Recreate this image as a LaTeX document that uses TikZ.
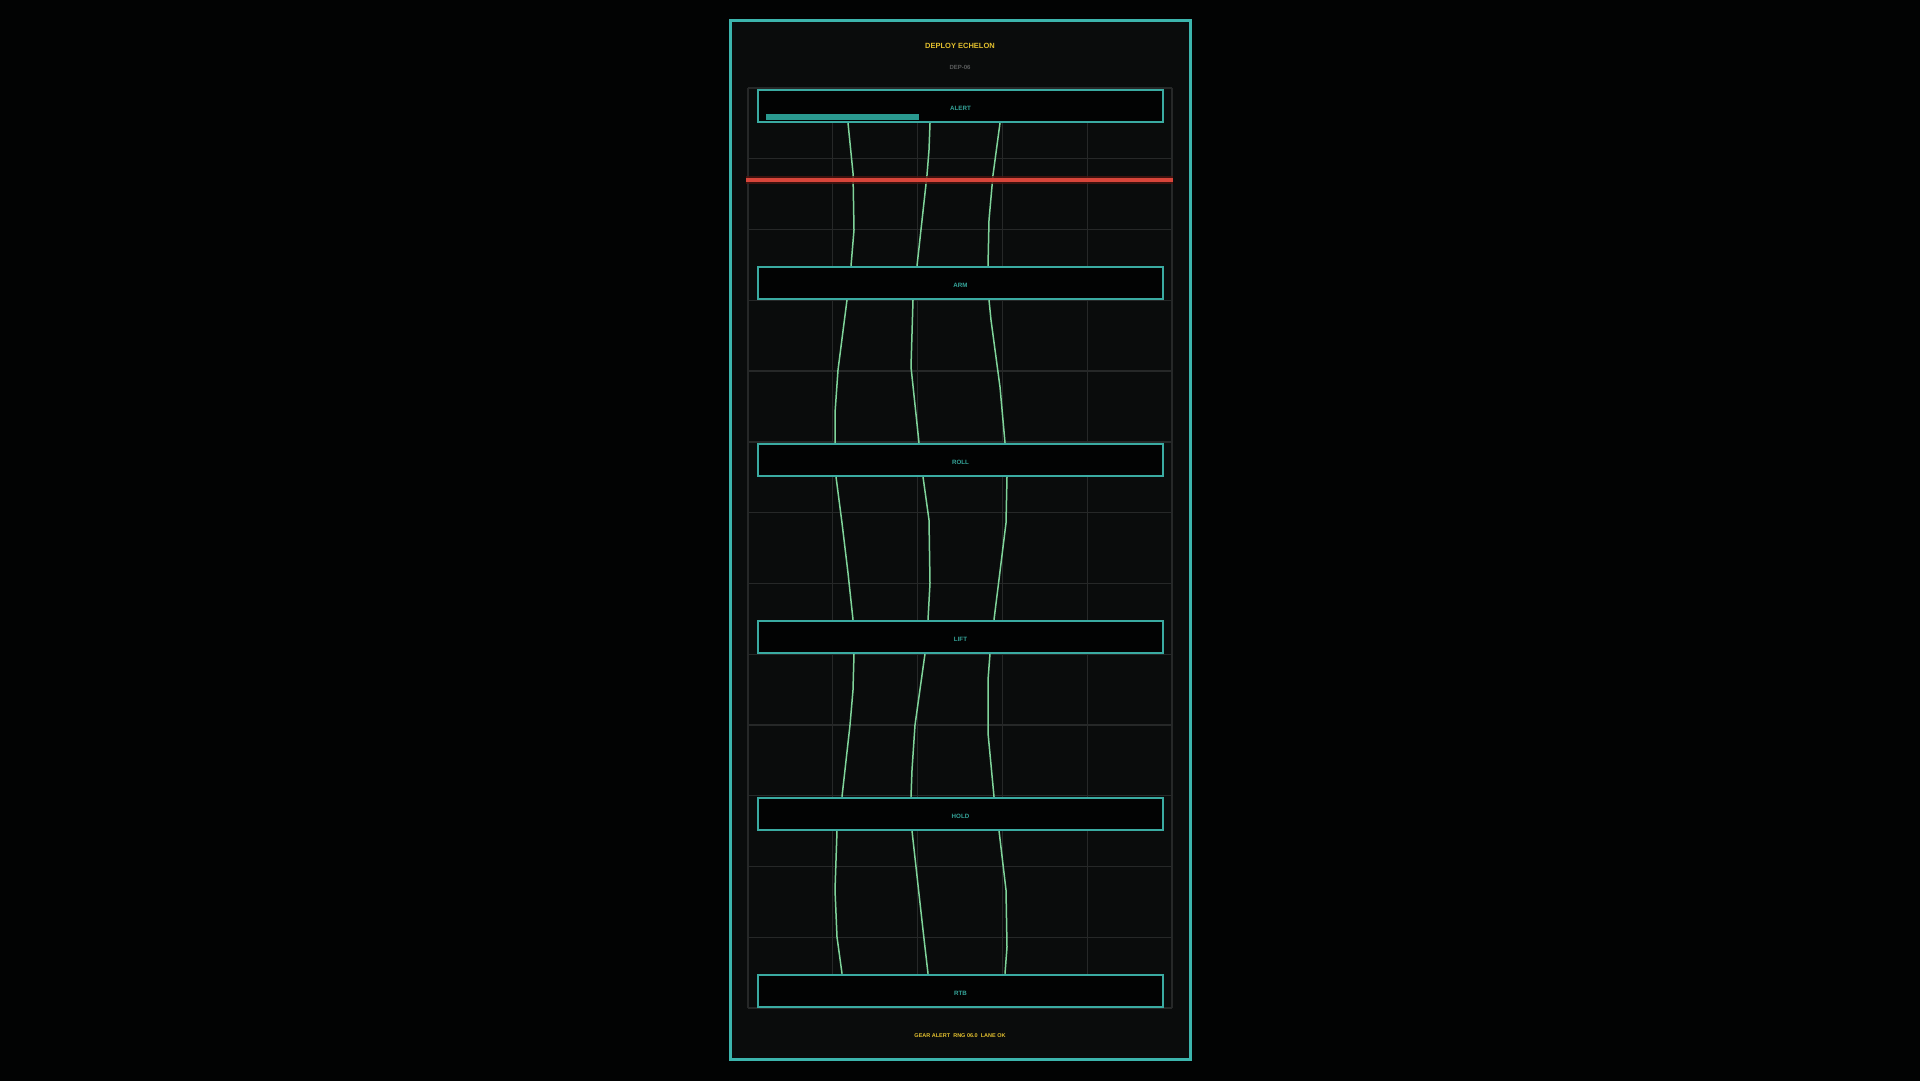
\documentclass[tikz,border=0pt]{standalone}
\usepackage{fontspec}
\setmainfont{Liberation Sans}
\pgfdeclarelayer{background}
\pgfdeclarelayer{mid}
\pgfsetlayers{background,mid,main}
\definecolor{pagebg}{HTML}{020303}
\definecolor{framebg}{HTML}{0A0C0C}
\definecolor{framec}{HTML}{3CB5AD}
\definecolor{gridc}{HTML}{262828}
\definecolor{nodec}{HTML}{3AABA2}
\definecolor{nodefill}{HTML}{020303}
\definecolor{labelc}{HTML}{35A59A}
\definecolor{titlec}{HTML}{E3C02E}
\definecolor{subc}{HTML}{5A5C5C}
\definecolor{flowc}{HTML}{7FD49A}
\definecolor{redc}{HTML}{D8453A}
\definecolor{redglow}{HTML}{4A1410}
\definecolor{barc}{HTML}{2A9A90}
\tikzset{
  stage/.style={draw=nodec, line width=2pt, fill=nodefill, minimum width=405pt, minimum height=32pt,
    inner sep=0pt, text=labelc, font=\fontsize{6.2}{7}\selectfont\bfseries, text height=9.4pt, text depth=0pt},
  flow/.style={draw=flowc, line width=1.5pt, line join=round, line cap=round},
  gridline/.style={draw=gridc, line width=1.3pt},
}
\begin{document}
\begin{tikzpicture}[x=1pt,y=-1pt]
\useasboundingbox (0,0) rectangle (1920,1080);
\begin{pgfonlayer}{background}
\fill[pagebg] (-10,-10) rectangle (1930,1090);
\draw[framec, line width=3pt, fill=framebg] (730,20) rectangle (1190,1059);
\foreach \k in {0,...,13} { \draw[gridline] (748,{88+70.77*\k}) -- (1172,{88+70.77*\k}); }
\foreach \k in {0,...,5} { \draw[gridline] ({748+84.8*\k},88) -- ({748+84.8*\k},1008); }
\end{pgfonlayer}

\node[font=\fontsize{7.5}{9}\selectfont\bfseries, text=titlec, anchor=base] (title) at (960,48) {DEPLOY ECHELON};
\node[font=\fontsize{6}{7}\selectfont\bfseries, text=subc, anchor=base] (sub) at (960,69.9) {DEP-06};

\node[stage] (alert) at (960.5,106) {ALERT};
\node[stage] (arm)   at (960.5,282.9) {ARM};
\node[stage] (roll)  at (960.5,459.8) {ROLL};
\node[stage] (lift)  at (960.5,636.7) {LIFT};
\node[stage] (hold)  at (960.5,813.6) {HOLD};
\node[stage] (rtb)   at (960.5,990.5) {RTB};

\fill[barc] (766,114) rectangle (919,119.5);

\begin{pgfonlayer}{mid}
% alert -> arm
\draw[flow] (alert.south -| 848,0) -- (853,173) -- (854,230) -- (arm.north -| 851,0);
\draw[flow] (alert.south -| 930,0) -- (929,150) -- (927,175) -- (arm.north -| 917,0);
\draw[flow] (alert.south -| 1000,0) -- (993,175) -- (989,220) -- (arm.north -| 988,0);
% arm -> roll
\draw[flow] (arm.south -| 847,0) -- (838,370) -- (835,413) -- (roll.north -| 835,0);
\draw[flow] (arm.south -| 913,0) -- (911,367) -- (roll.north -| 919,0);
\draw[flow] (arm.south -| 989,0) -- (991,320) -- (1000,387) -- (roll.north -| 1005,0);
% roll -> lift
\draw[flow] (roll.south -| 836,0) -- (842,523) -- (848,573) -- (lift.north -| 853,0);
\draw[flow] (roll.south -| 923,0) -- (929,520) -- (930,583) -- (lift.north -| 928,0);
\draw[flow] (roll.south -| 1007,0) -- (1006,523) -- (lift.north -| 994,0);
% lift -> hold
\draw[flow] (lift.south -| 854,0) -- (853,690) -- (850,725) -- (hold.north -| 842,0);
\draw[flow] (lift.south -| 925,0) -- (915,725) -- (912,770) -- (hold.north -| 911,0);
\draw[flow] (lift.south -| 990,0) -- (988,680) -- (988,733) -- (hold.north -| 994,0);
% hold -> rtb
\draw[flow] (hold.south -| 837,0) -- (835,890) -- (837,937) -- (rtb.north -| 842,0);
\draw[flow] (hold.south -| 912,0) -- (913,840) -- (923,930) -- (rtb.north -| 928,0);
\draw[flow] (hold.south -| 999,0) -- (1006,890) -- (1007,947) -- (rtb.north -| 1005,0);
\end{pgfonlayer}

\coordinate (redL) at (746,180);
\coordinate (redR) at (1173,180);
\draw[redglow, line width=8pt, opacity=0.8] (redL) -- (redR);
\draw[redc, line width=4pt] (redL) -- (redR);

\node[font=\fontsize{5.5}{7}\selectfont\bfseries, text=titlec, anchor=base] (footer) at (960,1037.7) {GEAR ALERT\ \ RNG 06.0\ \ LANE OK};
\end{tikzpicture}
\end{document}
